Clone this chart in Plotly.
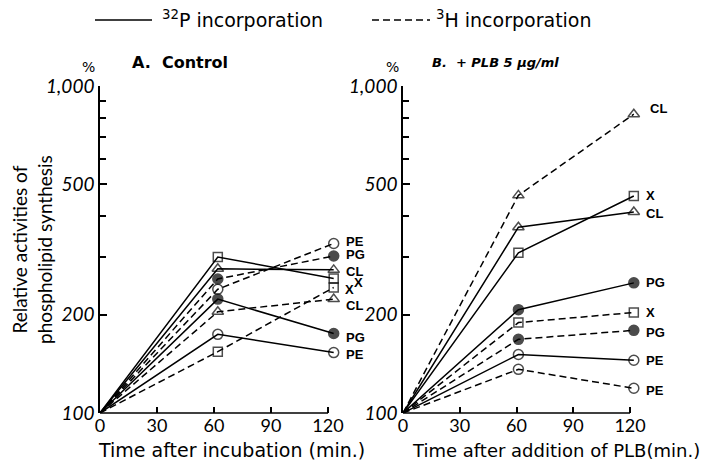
import math
import plotly.graph_objects as go

# ---------------- data ----------------
time_a = [0, 62, 123]          # min, panel A (control)
time_b = [0, 61, 122]          # min, panel B (+PLB)

lipids = ["PE", "PG", "CL", "X"]

# Panel A: relative activity (%)
a_p32 = {"PE": [100, 174, 153], "PG": [100, 223, 175],
         "CL": [100, 276, 274], "X": [100, 300, 258]}
a_h3 = {"PE": [100, 239, 330], "PG": [100, 257, 302],
        "CL": [100, 204, 223], "X": [100, 154, 242]}

# Panel B
b_p32 = {"PE": [100, 151, 145], "PG": [100, 207, 250],
         "CL": [100, 370, 412], "X": [100, 309, 461]}
b_h3 = {"PE": [100, 136, 119], "PG": [100, 168, 179],
        "CL": [100, 463, 820], "X": [100, 189, 203]}

y_major = [100, 200, 500, 1000]
y_major_text = ["100", "200", "500", "1,000"]
y_minor = [300, 400, 600, 700, 800, 900]
x_ticks = [0, 30, 60, 90, 120]

# label offsets (pixels) for end-of-line labels: (panel, series, lipid) -> (xshift, yshift)
label_shift = {
    ("A", "p", "PE"): (10, -2), ("A", "p", "PG"): (10, -4), ("A", "p", "CL"): (10, -2),
    ("A", "p", "X"): (18, -4),
    ("A", "h", "PE"): (10, 2), ("A", "h", "PG"): (10, 2), ("A", "h", "CL"): (10, -6),
    ("A", "h", "X"): (9, -2),
    ("B", "p", "PE"): (10, 0), ("B", "p", "PG"): (10, 0), ("B", "p", "CL"): (10, -2),
    ("B", "p", "X"): (10, 0),
    ("B", "h", "PE"): (10, -2), ("B", "h", "PG"): (10, -2), ("B", "h", "CL"): (14, 6),
    ("B", "h", "X"): (10, 0),
}

marker_style = {
    "PE": dict(symbol="circle-open", size=10),
    "PG": dict(symbol="circle", size=10),
    "CL": dict(symbol="triangle-up-open", size=10),
    "X": dict(symbol="square-open", size=9),
}

FONT = "Lato, 'DejaVu Sans', sans-serif"
WIDE = "'DejaVu Sans', sans-serif"
LBL = "'Liberation Sans', Arial, sans-serif"

# page has an 8px body margin; figure sized to fit the 712x463 window
OFF = 8
W, H = 712 - OFF, 463 - OFF

fig = go.Figure()

panels = [
    ("A", time_a, a_p32, a_h3, "x", "y"),
    ("B", time_b, b_p32, b_h3, "x2", "y2"),
]

annotations = []
for pname, t, p32, h3, xa, ya in panels:
    for key, series, dash in (("p", p32, "solid"), ("h", h3, "7px,4px")):
        for lip in lipids:
            vals = series[lip]
            ms = marker_style[lip]
            fig.add_trace(go.Scatter(
                x=t, y=vals, xaxis=xa, yaxis=ya,
                mode="lines+markers",
                line=dict(color="black", width=1.5, dash=dash),
                marker=dict(symbol=ms["symbol"], size=[0, ms["size"], ms["size"]],
                            color="black", line=dict(color="black", width=1.5)),
                showlegend=False, cliponaxis=False, hoverinfo="skip",
            ))
            dx, dy = label_shift[(pname, key, lip)]
            annotations.append(dict(
                x=t[-1], y=math.log10(vals[-1]), xref=xa, yref=ya,
                text=lip, showarrow=False, xanchor="left", yanchor="middle",
                xshift=dx, yshift=dy,
                font=dict(family=LBL, size=13, color="black", weight="bold"),
            ))

# axes geometry (window pixels -> paper)
def px(xp):
    return (xp - OFF) / W

def py(yp):
    return 1 - (yp - OFF) / H

y_dom = [py(413), py(86)]
xa_dom = [px(100), px(100 + 126 * 1.9)]
xb_dom = [px(403), px(403 + 126 * 1.892)]

xaxis_common = dict(
    range=[0, 126], showline=False, zeroline=False, showgrid=False, automargin=False,
    ticks="inside", ticklen=6, tickwidth=1.5, tickcolor="black",
    tickmode="array", tickvals=x_ticks,
    tickfont=dict(family=FONT, size=18, color="black"),
)
yaxis_common = dict(
    type="log", range=[2, 3], showline=True, linecolor="black", linewidth=1.5,
    zeroline=False, showgrid=False, automargin=False,
    ticks="inside", ticklen=7, tickwidth=1.5, tickcolor="black",
    tickmode="array", tickvals=y_major, ticktext=y_major_text,
    tickfont=dict(family=FONT, size=19, color="black", style="italic"),
    minor=dict(tickmode="array", tickvals=y_minor, ticks="inside", ticklen=6,
               tickwidth=1.5, tickcolor="black", showgrid=False),
)

fig.update_layout(
    width=W, height=H,
    margin=dict(l=0, r=0, t=0, b=0, autoexpand=False),
    paper_bgcolor="white", plot_bgcolor="white",
    showlegend=False,
    xaxis=dict(domain=xa_dom, anchor="y", **xaxis_common),
    yaxis=dict(domain=y_dom, anchor="x", **yaxis_common),
    xaxis2=dict(domain=xb_dom, anchor="y2", **xaxis_common),
    yaxis2=dict(domain=y_dom, anchor="x2", **yaxis_common),
)

# x axis lines from 0 to 120 only
shapes = []
for xa, ya in (("x", "y"), ("x2", "y2")):
    shapes.append(dict(type="line", xref=xa, yref=ya + " domain", x0=0, x1=120, y0=0, y1=0,
                       line=dict(color="black", width=1.5)))

# legend samples at top
shapes.append(dict(type="line", xref="paper", yref="paper", x0=px(95), x1=px(152),
                   y0=py(20), y1=py(20), line=dict(color="black", width=1.6)))
shapes.append(dict(type="line", xref="paper", yref="paper", x0=px(372), x1=px(430),
                   y0=py(20), y1=py(20), line=dict(color="black", width=1.6, dash="7px,4px")))

text_font = dict(family=WIDE, size=19, color="black")
annotations += [
    dict(x=px(160), y=py(19), xref="paper", yref="paper", xanchor="left", yanchor="middle",
         text="<sup>32</sup>P incorporation", showarrow=False, font=text_font),
    dict(x=px(434), y=py(19), xref="paper", yref="paper", xanchor="left", yanchor="middle",
         text="<sup>3</sup>H incorporation", showarrow=False, font=text_font),
    dict(x=px(88), y=py(67), xref="paper", yref="paper", xanchor="center", yanchor="middle",
         text="%", showarrow=False, font=dict(family=WIDE, size=14, color="black")),
    dict(x=px(392), y=py(67), xref="paper", yref="paper", xanchor="center", yanchor="middle",
         text="%", showarrow=False, font=dict(family=WIDE, size=14, color="black")),
    dict(x=px(130), y=py(62), xref="paper", yref="paper", xanchor="left", yanchor="middle",
         text="A.  Control", showarrow=False,
         font=dict(family=WIDE, size=16, color="black", weight="bold")),
    dict(x=px(430), y=py(62), xref="paper", yref="paper", xanchor="left", yanchor="middle",
         text="B.  + PLB 5 μg/ml", showarrow=False,
         font=dict(family=WIDE, size=13, color="black", weight="bold", style="italic")),
    dict(x=px(231), y=py(450), xref="paper", yref="paper", xanchor="center", yanchor="middle",
         text="Time after incubation (min.)", showarrow=False, font=text_font),
    dict(x=px(556), y=py(450), xref="paper", yref="paper", xanchor="center", yanchor="middle",
         text="Time after addition of PLB(min.)", showarrow=False,
         font=dict(family=WIDE, size=18, color="black")),
    dict(x=px(32), y=py(250), xref="paper", yref="paper", xanchor="center", yanchor="middle",
         text="Relative activities of<br>phospholipid synthesis", textangle=-90,
         showarrow=False, font=dict(family=FONT, size=19, color="black")),
]

fig.update_layout(shapes=shapes, annotations=annotations)
fig.write_html("out.html")
